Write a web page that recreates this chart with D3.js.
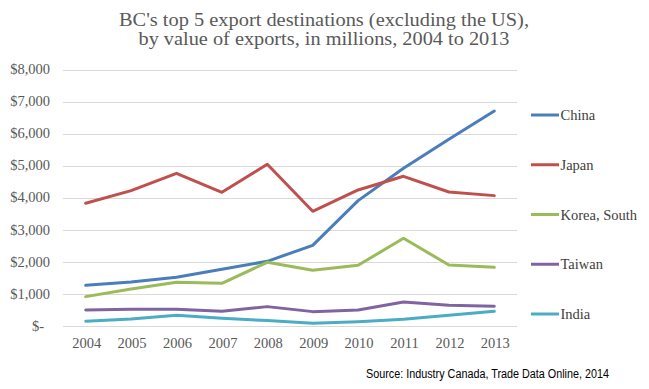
<!DOCTYPE html>
<html>
<head>
<meta charset="utf-8">
<script src="https://cdn.jsdelivr.net/npm/d3@7"></script>
<style>
  body { margin: 0; background: #fff; }
  svg { display: block; }
</style>
</head>
<body>
<svg id="chart" width="649" height="389"></svg>
<script>
const years = ["2004", "2005", "2006", "2007", "2008", "2009", "2010", "2011", "2012", "2013"];
const countries = ["China", "Japan", "Korea, South", "Taiwan", "India"];
const china = [1277, 1381, 1526, 1776, 2025, 2523, 3915, 4922, 5826, 6708];
const japan = [3832, 4226, 4766, 4174, 5047, 3583, 4247, 4673, 4185, 4071];
const korea = [924, 1163, 1371, 1340, 1994, 1745, 1900, 2741, 1911, 1838];
const taiwan = [509, 530, 530, 467, 613, 457, 509, 758, 654, 623];
const india = [156, 228, 343, 249, 177, 93, 145, 218, 343, 467];
const yTicks = [0, 1000, 2000, 3000, 4000, 5000, 6000, 7000, 8000];
const titleLines = ["BC's top 5 export destinations (excluding the US),",
                    "by value of exports, in millions, 2004 to 2013"];

const seriesValues = [china, japan, korea, taiwan, india];
const colors = ["#4a7ebb", "#c0504d", "#9bbb59", "#8064a2", "#4bacc6"];

const svg = d3.select("#chart");
const margin = { left: 63, right: 132, top: 69.5, bottom: 62.7 };
const width = 649, height = 389;

const x = d3.scalePoint()
  .domain(years)
  .range([margin.left, width - margin.right])
  .padding(0.5);

const y = d3.scaleLinear()
  .domain([0, 8000])
  .range([height - margin.bottom, margin.top]);

const serif = "Liberation Serif, DejaVu Serif, serif";

// Title (two centred lines)
const titleWidths = [410, 371];
svg.append("g")
  .selectAll("text")
  .data(titleLines)
  .join("text")
  .attr("x", 324)
  .attr("y", (d, i) => 26 + i * 19)
  .attr("text-anchor", "middle")
  .attr("font-family", serif)
  .attr("font-size", "18.5px")
  .attr("fill", "#595959")
  .attr("textLength", (d, i) => titleWidths[i])
  .attr("lengthAdjust", "spacingAndGlyphs")
  .text(d => d);

// Gridlines
svg.append("g")
  .selectAll("line")
  .data(yTicks)
  .join("line")
  .attr("x1", margin.left)
  .attr("x2", width - margin.right)
  .attr("y1", d => Math.round(y(d)) + 0.5)
  .attr("y2", d => Math.round(y(d)) + 0.5)
  .attr("stroke", "#d9d9d9")
  .attr("stroke-width", 1);

// Y axis labels
const fmt = d3.format(",");
svg.append("g")
  .selectAll("text")
  .data(yTicks)
  .join("text")
  .attr("x", d => d === 0 ? 44 : 50)
  .attr("y", d => y(d) + 4.5)
  .attr("text-anchor", "end")
  .attr("font-family", serif)
  .attr("font-size", "14.5px")
  .attr("fill", "#595959")
  .text(d => d === 0 ? "$-" : "$" + fmt(d));

// X axis labels
svg.append("g")
  .selectAll("text")
  .data(years)
  .join("text")
  .attr("x", d => x(d) + 1)
  .attr("y", 348)
  .attr("text-anchor", "middle")
  .attr("font-family", serif)
  .attr("font-size", "14.5px")
  .attr("fill", "#595959")
  .text(d => d);

// Lines
const line = d3.line()
  .x((d, i) => x(years[i]))
  .y(d => y(d));

svg.append("g")
  .selectAll("path")
  .data(seriesValues)
  .join("path")
  .attr("d", d => line(d))
  .attr("fill", "none")
  .attr("stroke", (d, i) => colors[i])
  .attr("stroke-width", 3)
  .attr("stroke-linejoin", "round")
  .attr("stroke-linecap", "round");

// Legend
const legendY = d3.scalePoint()
  .domain(countries)
  .range([115, 314]);

const legend = svg.append("g")
  .selectAll("g")
  .data(countries)
  .join("g")
  .attr("transform", d => `translate(531, ${legendY(d)})`);

legend.append("line")
  .attr("x1", 0).attr("x2", 28)
  .attr("stroke", (d, i) => colors[i])
  .attr("stroke-width", 3);

legend.append("text")
  .attr("x", 29.5)
  .attr("y", 5)
  .attr("font-family", serif)
  .attr("font-size", "14.5px")
  .attr("fill", "#404040")
  .text(d => d);

// Source (squeezed horizontally to look like a condensed sans)
svg.append("g")
  .attr("transform", "translate(366, 378) scale(0.8, 1)")
  .append("text")
  .attr("font-family", "Liberation Sans, Arial, sans-serif")
  .attr("font-size", "13.5px")
  .attr("fill", "#000")
  .text("Source: Industry Canada, Trade Data Online, 2014");
</script>
</body>
</html>
